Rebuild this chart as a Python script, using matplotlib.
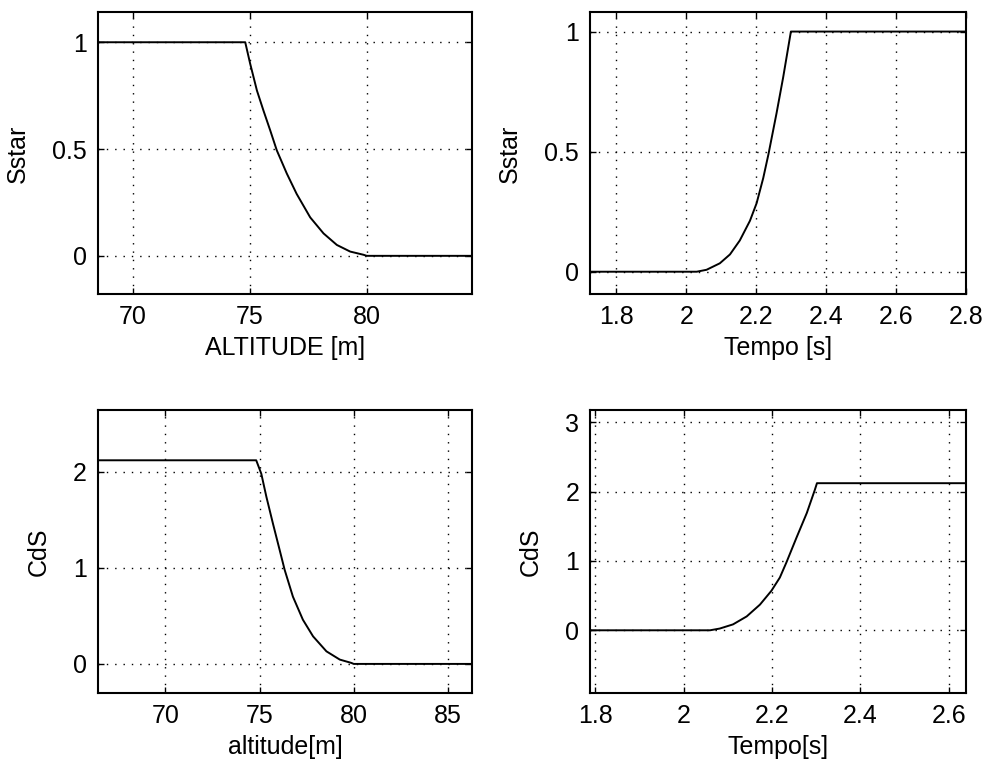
from matplotlib import pyplot as plt

## DATA
# Sstar vs altitude
alt_sstar = [68.5, 74.8, 75.01, 75.30, 75.58, 75.87, 76.15, 76.58, 77.0, 77.58,
             78.15, 78.72, 79.29, 79.86, 80.0, 84.5]
sstar_alt = [1.0, 1.0, 0.90, 0.774, 0.68, 0.587, 0.494, 0.385, 0.29, 0.18,
             0.105, 0.051, 0.02, 0.005, 0.0, 0.0]

# Sstar vs time
t_sstar = [1.726, 2.03, 2.058, 2.096, 2.125, 2.153, 2.182, 2.201, 2.22, 2.235,
           2.258, 2.277, 2.299, 2.8]
sstar_t = [0.0, 0.0, 0.008, 0.035, 0.072, 0.13, 0.212, 0.285, 0.39, 0.49,
           0.66, 0.81, 1.0, 1.0]

# CdS vs altitude
alt_cds = [66.4, 74.82, 75.09, 75.36, 75.71, 76.06, 76.33, 76.77, 77.30, 77.84,
           78.55, 79.26, 79.88, 80.0, 86.3]
cds_alt = [2.12, 2.12, 1.98, 1.74, 1.46, 1.19, 0.98, 0.70, 0.46, 0.287,
           0.131, 0.045, 0.01, 0.0, 0.0]

# CdS vs time
t_cds = [1.789, 2.06, 2.082, 2.112, 2.143, 2.173, 2.199, 2.218, 2.233, 2.256,
         2.279, 2.297, 2.302, 2.64]
cds_t = [0.0, 0.0, 0.025, 0.085, 0.20, 0.37, 0.57, 0.76, 0.98, 1.34,
         1.69, 2.02, 2.12, 2.12]

## STYLE
plt.rcParams['font.family'] = ['Liberation Sans', 'DejaVu Sans']
plt.rcParams['font.size'] = 18
GRID = dict(color='k', linestyle=(0, (1, 5)), linewidth=1.0)


def setup(ax, xlim, ylim, xticks, yticks, xticklabels, yticklabels, xlabel, ylabel):
    ax.set_xlim(*xlim)
    ax.set_ylim(*ylim)
    ax.set_xticks(xticks)
    ax.set_yticks(yticks)
    ax.set_xticklabels(xticklabels)
    ax.set_yticklabels(yticklabels)
    ax.set_xlabel(xlabel, labelpad=5)
    ax.set_ylabel(ylabel, labelpad=16)
    ax.grid(True, **GRID)
    ax.tick_params(direction='in', length=4, width=1, top=True, right=True,
                   pad=8, labelsize=18)
    for s in ax.spines.values():
        s.set_linewidth(1.5)


fig = plt.figure(figsize=(9.84, 7.62), dpi=100)

ax1 = fig.add_axes([0.0996, 0.6138, 0.380, 0.370])
ax1.plot(alt_sstar, sstar_alt, color='k', linewidth=1.4)
setup(ax1, (68.5, 84.5), (-0.18, 1.14), [70, 75, 80], [0, 0.5, 1],
      ['70', '75', '80'], ['0', '0.5', '1'], "ALTITUDE [m]", "Sstar")

ax2 = fig.add_axes([0.5999, 0.6138, 0.3821, 0.370])
ax2.plot(t_sstar, sstar_t, color='k', linewidth=1.4)
setup(ax2, (1.726, 2.8), (-0.094, 1.08), [1.8, 2.0, 2.2, 2.4, 2.6, 2.8], [0, 0.5, 1],
      ['1.8', '2', '2.2', '2.4', '2.6', '2.8'], ['0', '0.5', '1'], "Tempo [s]", "Sstar")

ax3 = fig.add_axes([0.0993, 0.0909, 0.3807, 0.3706])
ax3.plot(alt_cds, cds_alt, color='k', linewidth=1.4)
setup(ax3, (66.4, 86.3), (-0.3, 2.64), [70, 75, 80, 85], [0, 1, 2],
      ['70', '75', '80', '85'], ['0', '1', '2'], "altitude[m]", "CdS")

ax4 = fig.add_axes([0.5999, 0.0909, 0.3821, 0.3706])
ax4.plot(t_cds, cds_t, color='k', linewidth=1.4)
setup(ax4, (1.789, 2.64), (-0.9, 3.17), [1.8, 2.0, 2.2, 2.4, 2.6], [0, 1, 2, 3],
      ['1.8', '2', '2.2', '2.4', '2.6'], ['0', '1', '2', '3'], "Tempo[s]", "CdS")

fig.savefig("out.png", dpi=100)
